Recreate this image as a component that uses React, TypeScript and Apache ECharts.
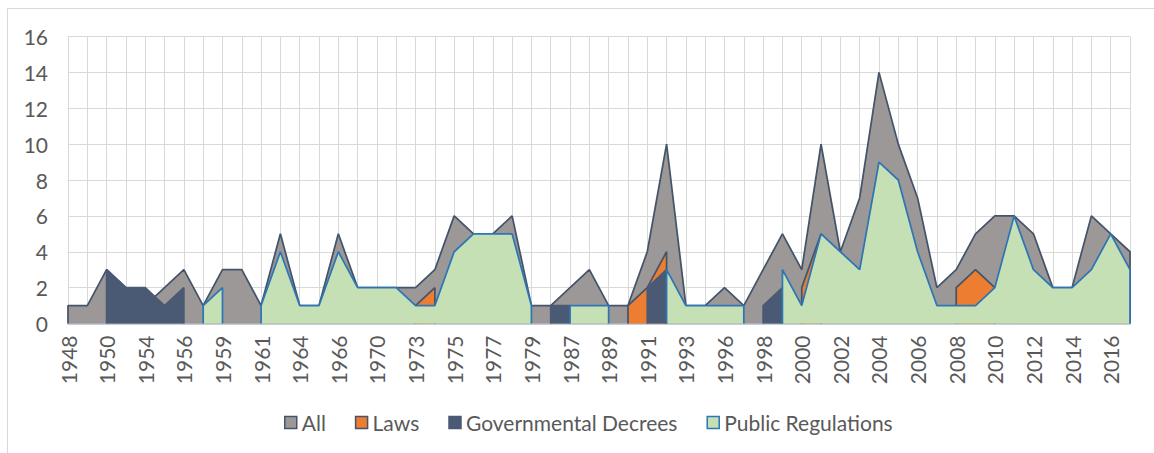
import React, { useEffect, useRef } from "react";
import * as echarts from "echarts";

const N = null;

const categories = [
  "1948", "1949", "1950", "1952", "1954", "1955", "1956", "1958", "1959", "1960",
  "1961", "1963", "1964", "1965", "1966", "1968", "1970", "1972", "1973", "1974",
  "1975", "1976", "1977", "1978", "1979", "1985", "1987", "1988", "1989", "1990",
  "1991", "1992", "1993", "1995", "1996", "1997", "1998", "1999", "2000", "2001",
  "2002", "2003", "2004", "2005", "2006", "2007", "2008", "2009", "2010", "2011",
  "2012", "2013", "2014", "2015", "2016", "2017",
];

const allValues = [
  1, 1, 3, 2, 1, 2, 3, 1, 3, 3,
  1, 5, 1, 1, 5, 2, 2, 2, 2, 3,
  6, 5, 5, 6, 1, 1, 2, 3, 1, 1,
  4, 10, 1, 1, 2, 1, 3, 5, 3, 10,
  4, 7, 14, 10, 7, 2, 3, 5, 6, 6,
  5, 2, 2, 6, 5, 4,
];

const laws = [
  N, N, N, N, N, N, N, N, N, N,
  N, N, N, N, N, N, N, N, 1, 2,
  N, N, N, N, N, N, N, N, N, 1,
  2, 4, N, N, N, N, N, N, 2, 5,
  N, N, N, N, N, N, 2, 3, 2, N,
  N, N, N, N, N, N,
];

const decrees = [
  N, N, 3, 2, 2, 1, 2, N, N, N,
  N, N, N, N, N, N, N, N, N, N,
  N, N, N, N, N, 1, 1, N, N, N,
  2, 3, N, N, N, N, 1, 2, N, N,
  N, N, N, N, N, N, N, N, N, N,
  N, N, N, N, N, N,
];

const publicRegs = [
  N, N, N, N, N, N, N, 1, 2, N,
  1, 4, 1, 1, 4, 2, 2, 2, 1, 1,
  4, 5, 5, 5, 1, N, 1, 1, 1, N,
  N, 3, 1, 1, 1, 1, N, 3, 1, 5,
  4, 3, 9, 8, 4, 1, 1, 1, 2, 6,
  3, 2, 2, 3, 5, 3,
];

const yTicks = { min: 0, max: 16, step: 2 };

const FONT = "Lato, 'Noto Sans', sans-serif";

// Excel-style area with gaps: each run of values drops vertically to 0 at its ends.
function toRuns(values: (number | null)[]) {
  const out: any[] = [];
  const n = values.length;
  for (let i = 0; i < n; i++) {
    const v = values[i];
    if (v == null) {
      if (out.length && out[out.length - 1][1] !== null) out.push([i, null]);
      continue;
    }
    const prevNull = i === 0 || values[i - 1] == null;
    const nextNull = i === n - 1 || values[i + 1] == null;
    if (prevNull) out.push([i, 0]);
    out.push([i, v]);
    if (nextNull) out.push([i, 0]);
  }
  return out;
}

const seriesDefs = [
  { name: "All", values: allValues, fill: "#9c9897", stroke: "#44546a" },
  { name: "Laws", values: laws, fill: "#ed7d31", stroke: "#44546a" },
  { name: "Governmental Decrees", values: decrees, fill: "#4a5a75", stroke: "#4a5a75" },
  { name: "Public Regulations", values: publicRegs, fill: "#c5e0b4", stroke: "#2e75b6" },
];

export default function App() {
  const ref = useRef<HTMLDivElement>(null);

  useEffect(() => {
    if (!ref.current) return;
    const chart = echarts.init(ref.current, null, { renderer: "svg" });
    const option: any = {
      animation: false,
      backgroundColor: "#ffffff",
      textStyle: { fontFamily: FONT },
      graphic: [
        {
          type: "rect",
          silent: true,
          z: -10,
          shape: { x: 7.5, y: 8.5, width: 1400, height: 700 },
          style: { fill: "none", stroke: "#d9d9d9", lineWidth: 1 },
        },
      ],
      grid: { left: 68, top: 36.5, width: 1062, height: 287, containLabel: false },
      xAxis: {
        type: "value",
        min: 0,
        max: categories.length - 1,
        interval: 1,
        axisLine: { show: true, lineStyle: { color: "#b4bccb", width: 1.5 } },
        axisTick: { show: false },
        splitLine: { show: true, lineStyle: { color: "#d9d9d9", width: 1 } },
        axisLabel: {
          rotate: 90,
          margin: 12,
          color: "#595959",
          fontSize: 21,
          fontFamily: FONT,
          showMinLabel: true,
          showMaxLabel: true,
          formatter: (v: number) => (v % 2 === 0 ? categories[v] ?? "" : ""),
        },
      },
      yAxis: {
        type: "value",
        min: yTicks.min,
        max: yTicks.max,
        interval: yTicks.step,
        axisLine: { show: false },
        axisTick: { show: false },
        splitLine: { show: true, lineStyle: { color: "#d9d9d9", width: 1 } },
        axisLabel: { color: "#595959", fontSize: 21, margin: 20, fontFamily: FONT },
      },
      legend: {
        left: 279,
        top: 407,
        itemWidth: 12,
        itemHeight: 12,
        itemGap: 29,
        selectedMode: false,
        textStyle: { color: "#595959", fontSize: 21, fontFamily: FONT },
        data: seriesDefs.map((s) => ({
          name: s.name,
          icon: "rect",
          itemStyle: {
            color: s.fill,
            borderColor: s.name === "Governmental Decrees" ? s.fill : s.name === "Public Regulations" ? s.stroke : "#44546a",
            borderWidth: 1.5,
          },
        })),
      },
      series: seriesDefs.map((s, k) => ({
        name: s.name,
        type: "line",
        z: 2 + k,
        data: toRuns(s.values),
        showSymbol: false,
        symbol: "none",
        connectNulls: false,
        smooth: false,
        itemStyle: { color: s.fill },
        lineStyle: { color: s.stroke, width: 1.75 },
        areaStyle: { color: s.fill, opacity: 1 },
        emphasis: { disabled: true },
      })),
    };
    chart.setOption(option);
    return () => chart.dispose();
  }, []);

  return (
    <div
      ref={ref}
      style={{ position: "fixed", left: 0, top: 0, width: 1154, height: 453 }}
    />
  );
}
